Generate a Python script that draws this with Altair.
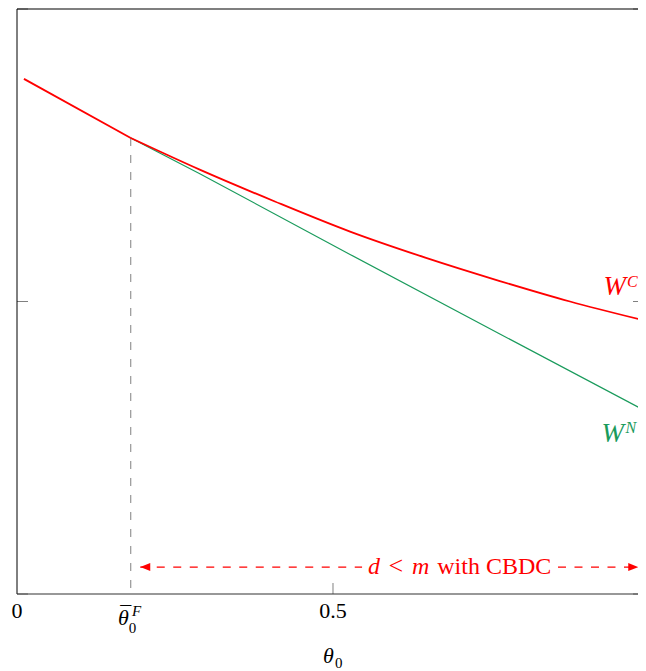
import altair as alt
import pandas as pd

# ---------------- data ----------------
theta_c = [0.011, 0.180, 0.290, 0.408, 0.527, 0.646, 0.764, 0.875, 0.989]
w_c = [1.761, 1.559, 1.450, 1.342, 1.239, 1.150, 1.070, 1.000, 0.937]
theta_n = [0.180, 0.290, 0.527, 0.764, 0.989]
w_n = [1.559, 1.436, 1.161, 0.889, 0.632]

theta_bar = 0.18
w_bar = 1.559

x_domain = [0.0, 0.9826]
y_domain = [0.0, 2.0]
x_ticks = [0.0, 0.5]
x_tick_labels = ["0", "0.5"]
x_inner_ticks = [0.5]
y_ticks = [0.0, 1.0, 2.0]

arrow_y = 0.092
arrow_seg_start = [0.195, 0.856]
arrow_seg_end = [0.546, 0.983]
arrow_tips = [0.195, 0.983]

# ---------------- setup ----------------
W, H = 621, 585
RED = "#ff0000"
GREEN = "#1a9b5c"
GREY = "#808080"
SERIF = "Liberation Serif"

xs = alt.Scale(domain=x_domain, nice=False, zero=False)
ys = alt.Scale(domain=y_domain, nice=False, zero=False)


def X(f):
    return alt.X(f, type="quantitative", scale=xs, axis=None)


def Y(f):
    return alt.Y(f, type="quantitative", scale=ys, axis=None)


df_c_lin = pd.DataFrame({"theta": theta_c[:2], "w": w_c[:2]})
df_c = pd.DataFrame({"theta": theta_c[1:], "w": w_c[1:]})
df_n = pd.DataFrame({"theta": theta_n, "w": w_n})
one = pd.DataFrame({"a": [0]})

green = alt.Chart(df_n).mark_line(color=GREEN, strokeWidth=1.2).encode(
    x=X("theta"), y=Y("w"))
red0 = alt.Chart(df_c_lin).mark_line(color=RED, strokeWidth=1.8).encode(
    x=X("theta"), y=Y("w"))
red = alt.Chart(df_c).mark_line(color=RED, strokeWidth=1.8, interpolate="monotone").encode(
    x=X("theta"), y=Y("w"))

# frame
left_border = alt.Chart(one).mark_rule(color="black", strokeWidth=1).encode(
    x=alt.XDatum(x_domain[0], scale=xs, axis=None))
bottom_border = alt.Chart(one).mark_rule(color="#333333", strokeWidth=1.2).encode(
    y=alt.YDatum(y_domain[0], scale=ys, axis=None))
top_border = alt.Chart(one).mark_rule(color="black", strokeWidth=1.2).encode(
    y=alt.YDatum(y_domain[1], scale=ys, axis=None))

# inward ticks
ytick_df = pd.DataFrame({"y": y_ticks})
left_ticks = alt.Chart(ytick_df).mark_rule(color=GREY, strokeWidth=1).encode(
    y=Y("y"), x=alt.value(0), x2=alt.value(11))
right_ticks = alt.Chart(ytick_df).mark_rule(color=GREY, strokeWidth=1).encode(
    y=Y("y"), x=alt.value(W - 5), x2=alt.value(W))
xtick_df = pd.DataFrame({"x": x_inner_ticks})
bottom_ticks = alt.Chart(xtick_df).mark_rule(color=GREY, strokeWidth=1).encode(
    x=X("x"), y=alt.value(H), y2=alt.value(H - 11))

# tick labels
xlab_df = pd.DataFrame({"x": x_ticks, "label": x_tick_labels})
xlabels = alt.Chart(xlab_df).mark_text(
    font=SERIF, fontSize=22, align="center", baseline="alphabetic", dy=24, color="black"
).encode(x=X("x"), y=alt.value(H), text="label:N")

# theta-bar tick label pieces
tb_main = alt.Chart(pd.DataFrame({"x": [theta_bar - 0.020], "t": ["θ"]})).mark_text(
    font=SERIF, fontSize=22, fontStyle="italic", align="left", baseline="alphabetic", dy=31
).encode(x=X("x"), y=alt.value(H), text="t:N")
tb_bar = alt.Chart(pd.DataFrame({"x": [theta_bar - 0.008], "t": ["¯"]})).mark_text(
    font=SERIF, fontSize=22, align="center", baseline="alphabetic", dy=27
).encode(x=X("x"), y=alt.value(H), text="t:N")
tb_sub = alt.Chart(pd.DataFrame({"x": [theta_bar - 0.003], "t": ["0"]})).mark_text(
    font=SERIF, fontSize=15, align="left", baseline="alphabetic", dy=39
).encode(x=X("x"), y=alt.value(H), text="t:N")
tb_sup = alt.Chart(pd.DataFrame({"x": [theta_bar + 0.002], "t": ["F"]})).mark_text(
    font=SERIF, fontSize=15, fontStyle="italic", align="left", baseline="alphabetic", dy=22
).encode(x=X("x"), y=alt.value(H), text="t:N")

# x-axis title theta_0
xt_main = alt.Chart(pd.DataFrame({"x": [0.484], "t": ["θ"]})).mark_text(
    font=SERIF, fontSize=22, fontStyle="italic", align="left", baseline="alphabetic", dy=69
).encode(x=X("x"), y=alt.value(H), text="t:N")
xt_sub = alt.Chart(pd.DataFrame({"x": [0.5032], "t": ["0"]})).mark_text(
    font=SERIF, fontSize=15, align="left", baseline="alphabetic", dy=74
).encode(x=X("x"), y=alt.value(H), text="t:N")

# dashed vertical at theta_bar
vline = alt.Chart(pd.DataFrame({"x": [theta_bar], "y": [w_bar], "y2": [0.0]})).mark_rule(
    color=GREY, strokeWidth=1, strokeDash=[8, 9]
).encode(x=X("x"), y=Y("y"), y2=alt.Y2("y2"))

# double arrow
arr_df = pd.DataFrame({"x": arrow_seg_start, "x2": arrow_seg_end, "y": [arrow_y] * 2})
arrow_lines = alt.Chart(arr_df).mark_rule(color=RED, strokeWidth=1.3, strokeDash=[8, 8.5]).encode(
    x=X("x"), x2=alt.X2("x2"), y=Y("y"))
head_l = alt.Chart(pd.DataFrame({"x": [arrow_tips[0]], "y": [arrow_y]})).mark_point(
    shape="M0,0L2,-0.8L2,0.8Z", size=100, filled=True, color=RED, opacity=1
).encode(x=X("x"), y=Y("y"))
head_r = alt.Chart(pd.DataFrame({"x": [arrow_tips[1]], "y": [arrow_y]})).mark_point(
    shape="M0,0L-2,-0.8L-2,0.8Z", size=100, filled=True, color=RED, opacity=1
).encode(x=X("x"), y=Y("y"))

ann_it = alt.Chart(pd.DataFrame({"x": [0.5554, 0.6250], "y": [arrow_y] * 2, "t": ["d", "m"]})).mark_text(
    font=SERIF, fontSize=24, fontStyle="italic", align="left", baseline="alphabetic", dy=7, color=RED
).encode(x=X("x"), y=Y("y"), text="t:N")
ann_lt = alt.Chart(pd.DataFrame({"x": [0.5880], "y": [arrow_y], "t": ["<"]})).mark_text(
    font=SERIF, fontSize=26, align="left", baseline="alphabetic", dy=7, color=RED
).encode(x=X("x"), y=Y("y"), text="t:N")
ann_rm = alt.Chart(pd.DataFrame({"x": [0.665], "y": [arrow_y], "t": ["with CBDC"]})).mark_text(
    font=SERIF, fontSize=24, align="left", baseline="alphabetic", dy=7, color=RED
).encode(x=X("x"), y=Y("y"), text="t:N")

# series labels
cscale = alt.Scale(domain=["C", "N"], range=[RED, GREEN])
lab_W = alt.Chart(pd.DataFrame({"x": [0.928, 0.925], "y": [1.022, 0.520],
                                "t": ["W", "W"], "c": ["C", "N"]})).mark_text(
    font=SERIF, fontSize=27, fontStyle="italic", align="left", baseline="alphabetic"
).encode(x=X("x"), y=Y("y"), text="t:N", color=alt.Color("c:N", scale=cscale, legend=None))
lab_S = alt.Chart(pd.DataFrame({"x": [0.965, 0.963], "y": [1.05, 0.550],
                                "t": ["C", "N"], "c": ["C", "N"]})).mark_text(
    font=SERIF, fontSize=16, fontStyle="italic", align="left", baseline="alphabetic"
).encode(x=X("x"), y=Y("y"), text="t:N", color=alt.Color("c:N", scale=cscale, legend=None))

chart = alt.layer(
    left_ticks, right_ticks, bottom_ticks,
    vline, green, red0, red,
    left_border, bottom_border, top_border,
    arrow_lines, head_l, head_r, ann_it, ann_lt, ann_rm,
    lab_W, lab_S,
    xlabels, tb_main, tb_bar, tb_sub, tb_sup, xt_main, xt_sub,
).properties(
    width=W, height=H,
    padding={"left": 9, "top": 1, "right": 0, "bottom": 76},
    autosize=alt.AutoSizeParams(type="none"),
).configure_view(stroke=None)

chart.save("out.html", embed_options={"renderer": "svg", "actions": False})
